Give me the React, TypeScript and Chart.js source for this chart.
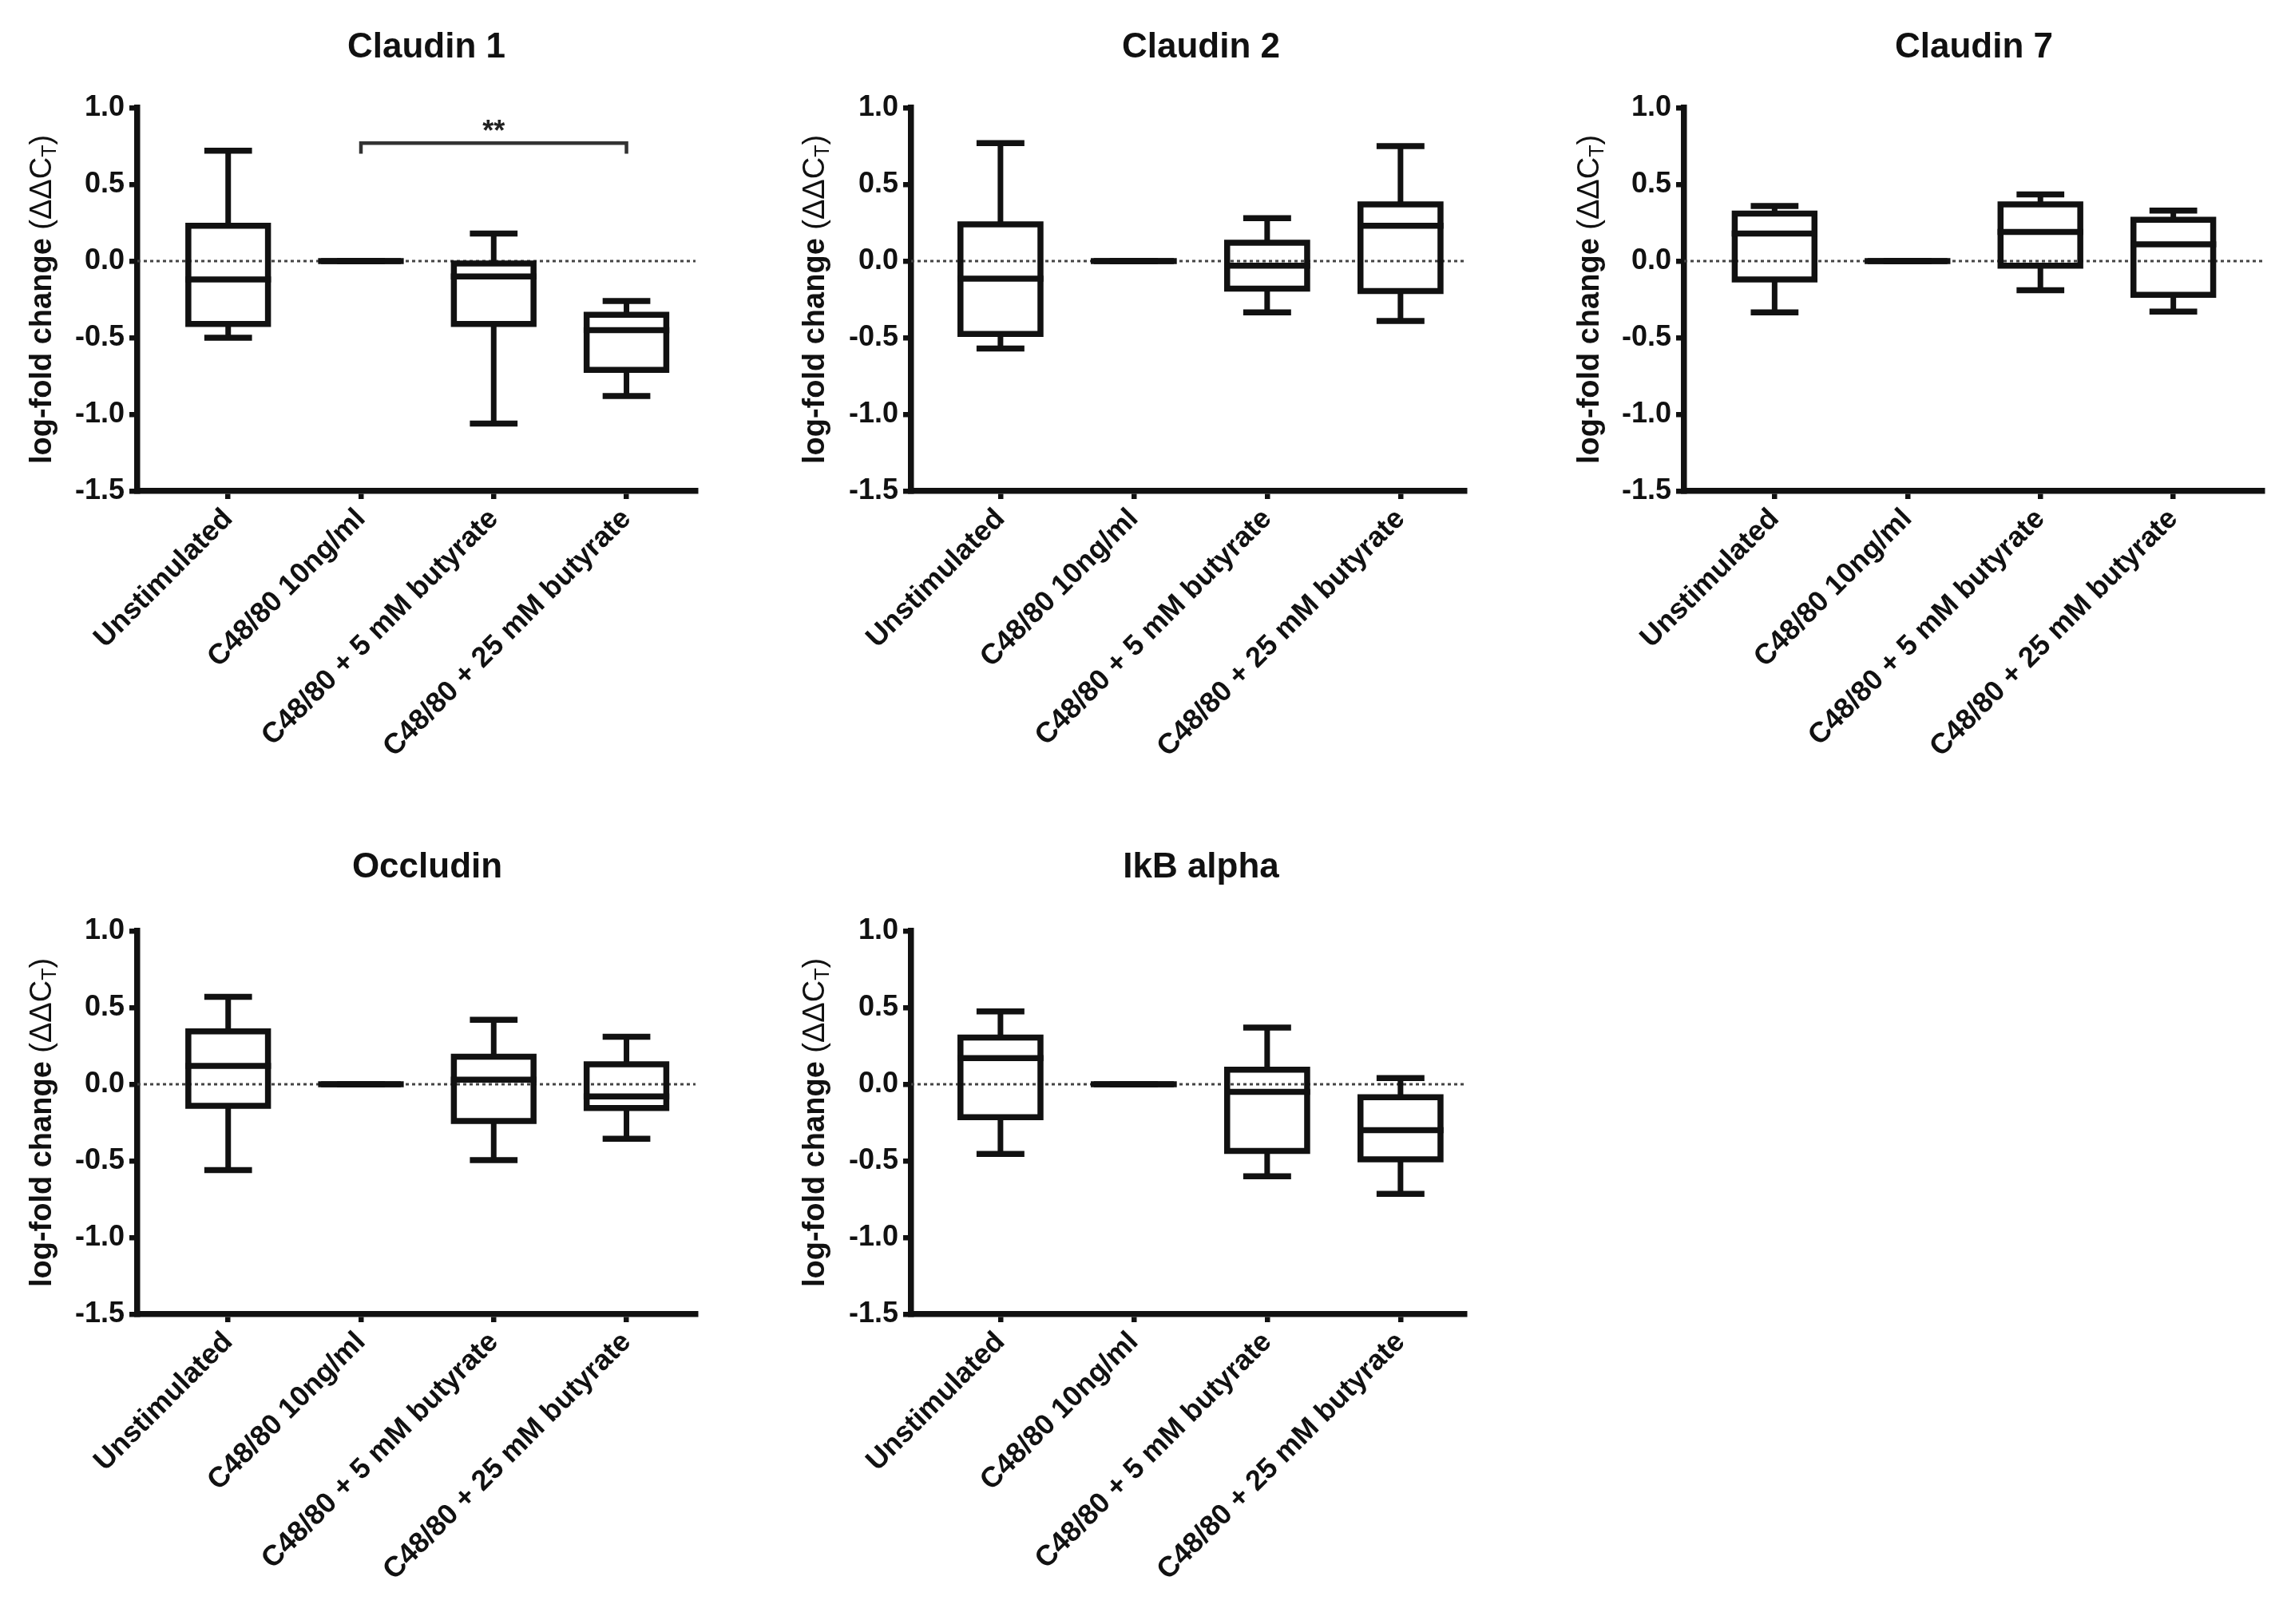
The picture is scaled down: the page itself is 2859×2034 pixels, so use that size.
import React, { useEffect, useRef } from 'react';
import { Chart, registerables } from 'chart.js';

Chart.register(...registerables);

// ---------------- data ----------------
const categories = [
  'Unstimulated',
  'C48/80 10ng/ml',
  'C48/80 + 5 mM butyrate',
  'C48/80 + 25 mM butyrate',
];
const yTickValues = [-1.5, -1.0, -0.5, 0.0, 0.5, 1.0];

const claudin1Min = [-0.5, 0, -1.06, -0.88];
const claudin1Q1 = [-0.41, 0, -0.41, -0.71];
const claudin1Median = [-0.12, 0, -0.1, -0.45];
const claudin1Q3 = [0.23, 0, -0.015, -0.35];
const claudin1Max = [0.72, 0, 0.18, -0.26];

const claudin2Min = [-0.57, 0, -0.335, -0.39];
const claudin2Q1 = [-0.475, 0, -0.18, -0.195];
const claudin2Median = [-0.115, 0, -0.03, 0.23];
const claudin2Q3 = [0.24, 0, 0.12, 0.37];
const claudin2Max = [0.77, 0, 0.28, 0.75];

const claudin7Min = [-0.335, 0, -0.19, -0.33];
const claudin7Q1 = [-0.12, 0, -0.03, -0.22];
const claudin7Median = [0.18, 0, 0.19, 0.11];
const claudin7Q3 = [0.31, 0, 0.37, 0.27];
const claudin7Max = [0.36, 0, 0.435, 0.33];

const occludinMin = [-0.56, 0, -0.495, -0.355];
const occludinQ1 = [-0.14, 0, -0.24, -0.155];
const occludinMedian = [0.12, 0, 0.03, -0.08];
const occludinQ3 = [0.345, 0, 0.18, 0.13];
const occludinMax = [0.57, 0, 0.42, 0.31];

const ikbMin = [-0.455, 0, -0.6, -0.715];
const ikbQ1 = [-0.215, 0, -0.435, -0.49];
const ikbMedian = [0.17, 0, -0.05, -0.3];
const ikbQ3 = [0.305, 0, 0.095, -0.085];
const ikbMax = [0.475, 0, 0.37, 0.04];

// significance bracket in Claudin 1 (between category 2 and 4)
const claudin1Bracket = { from: 2, to: 4, top: 0.77, foot: 0.70, label: '**' };

// ---------------- style ----------------
const FONT = '"Liberation Sans", Arial, Helvetica, sans-serif';
const BOX_HALF = 0.3; // category units
const CAP_HALF = 0.157;
const INK = '#111';

type Bracket = typeof claudin1Bracket;
type PanelSpec = {
  title: string;
  min: number[];
  q1: number[];
  median: number[];
  q3: number[];
  max: number[];
  bracket?: Bracket;
  left: number;
  top: number;
  width: number;
  height: number;
  axisLeft: number;
  axisRight: number;
  axisTop: number;
  axisBottom: number;
  titleX: number;
  titleBaseline: number;
  yTitleX: number;
  xMin: number;
  xMax: number;
};

const panels: PanelSpec[] = [
  {
    title: 'Claudin 1', min: claudin1Min, q1: claudin1Q1, median: claudin1Median, q3: claudin1Q3, max: claudin1Max,
    bracket: claudin1Bracket,
    left: 0, top: 0, width: 980, height: 1010,
    axisLeft: 172, axisRight: 871, axisTop: 135, axisBottom: 615,
    titleX: 534, titleBaseline: 72, yTitleX: 54, xMin: 0.316, xMax: 4.52,
  },
  {
    title: 'Claudin 2', min: claudin2Min, q1: claudin2Q1, median: claudin2Median, q3: claudin2Q3, max: claudin2Max,
    left: 969, top: 0, width: 960, height: 1010,
    axisLeft: 1141, axisRight: 1834, axisTop: 135, axisBottom: 615,
    titleX: 1504, titleBaseline: 72, yTitleX: 1022, xMin: 0.33, xMax: 4.48,
  },
  {
    title: 'Claudin 7', min: claudin7Min, q1: claudin7Q1, median: claudin7Median, q3: claudin7Q3, max: claudin7Max,
    left: 1937, top: 0, width: 922, height: 1010,
    axisLeft: 2109, axisRight: 2833, axisTop: 135, axisBottom: 615,
    titleX: 2472, titleBaseline: 72, yTitleX: 1992, xMin: 0.319, xMax: 4.669,
  },
  {
    title: 'Occludin', min: occludinMin, q1: occludinQ1, median: occludinMedian, q3: occludinQ3, max: occludinMax,
    left: 0, top: 1029, width: 980, height: 1005,
    axisLeft: 172, axisRight: 871, axisTop: 1166, axisBottom: 1646,
    titleX: 535, titleBaseline: 1099, yTitleX: 54, xMin: 0.316, xMax: 4.52,
  },
  {
    title: 'IkB alpha', min: ikbMin, q1: ikbQ1, median: ikbMedian, q3: ikbQ3, max: ikbMax,
    left: 969, top: 1029, width: 960, height: 1005,
    axisLeft: 1141, axisRight: 1834, axisTop: 1166, axisBottom: 1646,
    titleX: 1504, titleBaseline: 1099, yTitleX: 1022, xMin: 0.33, xMax: 4.48,
  },
];

function makeBoxPlugin(spec: PanelSpec) {
  return {
    id: 'boxplotDraw',
    afterDatasetsDraw(chart: any) {
      const { ctx } = chart;
      const x = chart.scales.x;
      const y = chart.scales.y;
      ctx.save();
      ctx.strokeStyle = INK;
      const seg = (x1: number, y1: number, x2: number, y2: number) => {
        ctx.beginPath();
        ctx.moveTo(x1, y1);
        ctx.lineTo(x2, y2);
        ctx.stroke();
      };
      for (let i = 0; i < spec.median.length; i++) {
        const v = i + 1;
        const cx = x.getPixelForValue(v);
        const hw = x.getPixelForValue(v + BOX_HALF) - cx;
        const cw = x.getPixelForValue(v + CAP_HALF) - cx;
        const pMin = y.getPixelForValue(spec.min[i]);
        const pQ1 = y.getPixelForValue(spec.q1[i]);
        const pMed = y.getPixelForValue(spec.median[i]);
        const pQ3 = y.getPixelForValue(spec.q3[i]);
        const pMax = y.getPixelForValue(spec.max[i]);
        ctx.lineCap = 'butt';
        ctx.lineWidth = 7;
        if (pMax < pQ3) seg(cx, pQ3, cx, pMax);
        if (pMin > pQ1) seg(cx, pQ1, cx, pMin);
        ctx.lineCap = 'square';
        ctx.lineWidth = 7.5;
        seg(cx - cw, pMax, cx + cw, pMax);
        seg(cx - cw, pMin, cx + cw, pMin);
        ctx.lineJoin = 'miter';
        ctx.beginPath();
        ctx.rect(cx - hw, pQ3, 2 * hw, pQ1 - pQ3);
        ctx.stroke();
        seg(cx - hw, pMed, cx + hw, pMed);
      }
      if (spec.bracket) {
        const b = spec.bracket;
        const x1 = x.getPixelForValue(b.from);
        const x2 = x.getPixelForValue(b.to);
        const yt = y.getPixelForValue(b.top);
        const yf = y.getPixelForValue(b.foot);
        ctx.strokeStyle = '#333';
        ctx.lineWidth = 4.5;
        ctx.lineCap = 'butt';
        ctx.lineJoin = 'miter';
        ctx.beginPath();
        ctx.moveTo(x1, yf);
        ctx.lineTo(x1, yt);
        ctx.lineTo(x2, yt);
        ctx.lineTo(x2, yf);
        ctx.stroke();
        ctx.fillStyle = '#222';
        ctx.font = `bold 36px ${FONT}`;
        ctx.textAlign = 'center';
        ctx.textBaseline = 'alphabetic';
        ctx.fillText(b.label, (x1 + x2) / 2, yt - 3);
      }
      ctx.restore();
    },
    afterDraw(chart: any) {
      const { ctx, chartArea } = chart;
      ctx.save();
      // panel title
      ctx.fillStyle = INK;
      ctx.font = `bold 44px ${FONT}`;
      ctx.textAlign = 'center';
      ctx.textBaseline = 'alphabetic';
      ctx.fillText(spec.title, spec.titleX - spec.left, spec.titleBaseline - spec.top);
      // y axis title with subscript
      const parts = [
        { t: 'log-fold change ', f: `bold 38px ${FONT}`, dy: 0 },
        { t: '(\u0394\u0394C', f: `38px ${FONT}`, dy: 0 },
        { t: 'T', f: `25px ${FONT}`, dy: 9 },
        { t: ')', f: `38px ${FONT}`, dy: 0 },
      ];
      let total = 0;
      const widths = parts.map((p) => {
        ctx.font = p.f;
        const w = ctx.measureText(p.t).width;
        total += w;
        return w;
      });
      ctx.translate(spec.yTitleX - spec.left, (chartArea.top + chartArea.bottom) / 2);
      ctx.rotate(-Math.PI / 2);
      ctx.textAlign = 'left';
      ctx.textBaseline = 'middle';
      let cur = -total / 2;
      parts.forEach((p, i) => {
        ctx.font = p.f;
        ctx.fillText(p.t, cur, p.dy);
        cur += widths[i];
      });
      ctx.restore();
    },
  };
}

function PanelChart({ spec }: { spec: PanelSpec }) {
  const ref = useRef<HTMLCanvasElement | null>(null);
  useEffect(() => {
    if (!ref.current) return;
    const tickFont = { family: FONT, size: 36, weight: 'bold' as const };
    const chart = new Chart(ref.current, {
      type: 'scatter',
      data: {
        datasets: [
          {
            type: 'line',
            data: [
              { x: spec.xMin, y: 0 },
              { x: spec.xMax, y: 0 },
            ],
            borderColor: '#444',
            borderWidth: 3,
            borderDash: [4, 4],
            pointRadius: 0,
            fill: false,
          } as any,
        ],
      },
      options: {
        responsive: false,
        animation: false,
        devicePixelRatio: 1,
        events: [],
        layout: {
          padding: {
            left: 0,
            top: spec.axisTop - spec.top,
            right: spec.left + spec.width - spec.axisRight,
            bottom: 0,
          },
        },
        plugins: {
          legend: { display: false },
          tooltip: { enabled: false },
          title: { display: false },
        },
        scales: {
          x: {
            type: 'linear',
            min: spec.xMin,
            max: spec.xMax,
            afterBuildTicks: (s: any) => {
              s.ticks = categories.map((_, i) => ({ value: i + 1 }));
            },
            afterFit: (s: any) => {
              s.height = spec.top + spec.height - spec.axisBottom;
            },
            ticks: {
              autoSkip: false,
              maxRotation: 45,
              minRotation: 45,
              padding: 4,
              color: INK,
              font: tickFont,
              callback: (v: any) => categories[Math.round(Number(v)) - 1] ?? '',
            },
            grid: {
              display: true,
              drawOnChartArea: false,
              drawTicks: true,
              tickLength: 10,
              tickWidth: 6.5,
              lineWidth: 6.5,
              color: INK,
              tickColor: INK,
            },
            border: { display: true, width: 7.5, color: INK },
          },
          y: {
            type: 'linear',
            min: -1.5,
            max: 1.0,
            afterBuildTicks: (s: any) => {
              s.ticks = yTickValues.map((v) => ({ value: v }));
            },
            afterFit: (s: any) => {
              s.width = spec.axisLeft - spec.left;
            },
            ticks: {
              padding: 6,
              color: INK,
              font: tickFont,
              callback: (v: any) => Number(v).toFixed(1),
            },
            grid: {
              display: true,
              drawOnChartArea: false,
              drawTicks: true,
              tickLength: 10,
              tickWidth: 6.5,
              lineWidth: 6.5,
              color: INK,
              tickColor: INK,
            },
            border: { display: true, width: 7.5, color: INK },
          },
        },
      } as any,
      plugins: [makeBoxPlugin(spec) as any],
    });
    return () => chart.destroy();
  }, [spec]);
  return (
    <canvas
      ref={ref}
      width={spec.width}
      height={spec.height}
      style={{
        position: 'absolute',
        left: spec.left,
        top: spec.top,
        width: spec.width,
        height: spec.height,
      }}
    />
  );
}

export default function App() {
  return (
    <div
      style={{
        position: 'absolute',
        left: 0,
        top: 0,
        width: 2859,
        height: 2034,
        background: '#ffffff',
        overflow: 'hidden',
      }}
    >
      {panels.map((p) => (
        <PanelChart key={p.title} spec={p} />
      ))}
    </div>
  );
}
